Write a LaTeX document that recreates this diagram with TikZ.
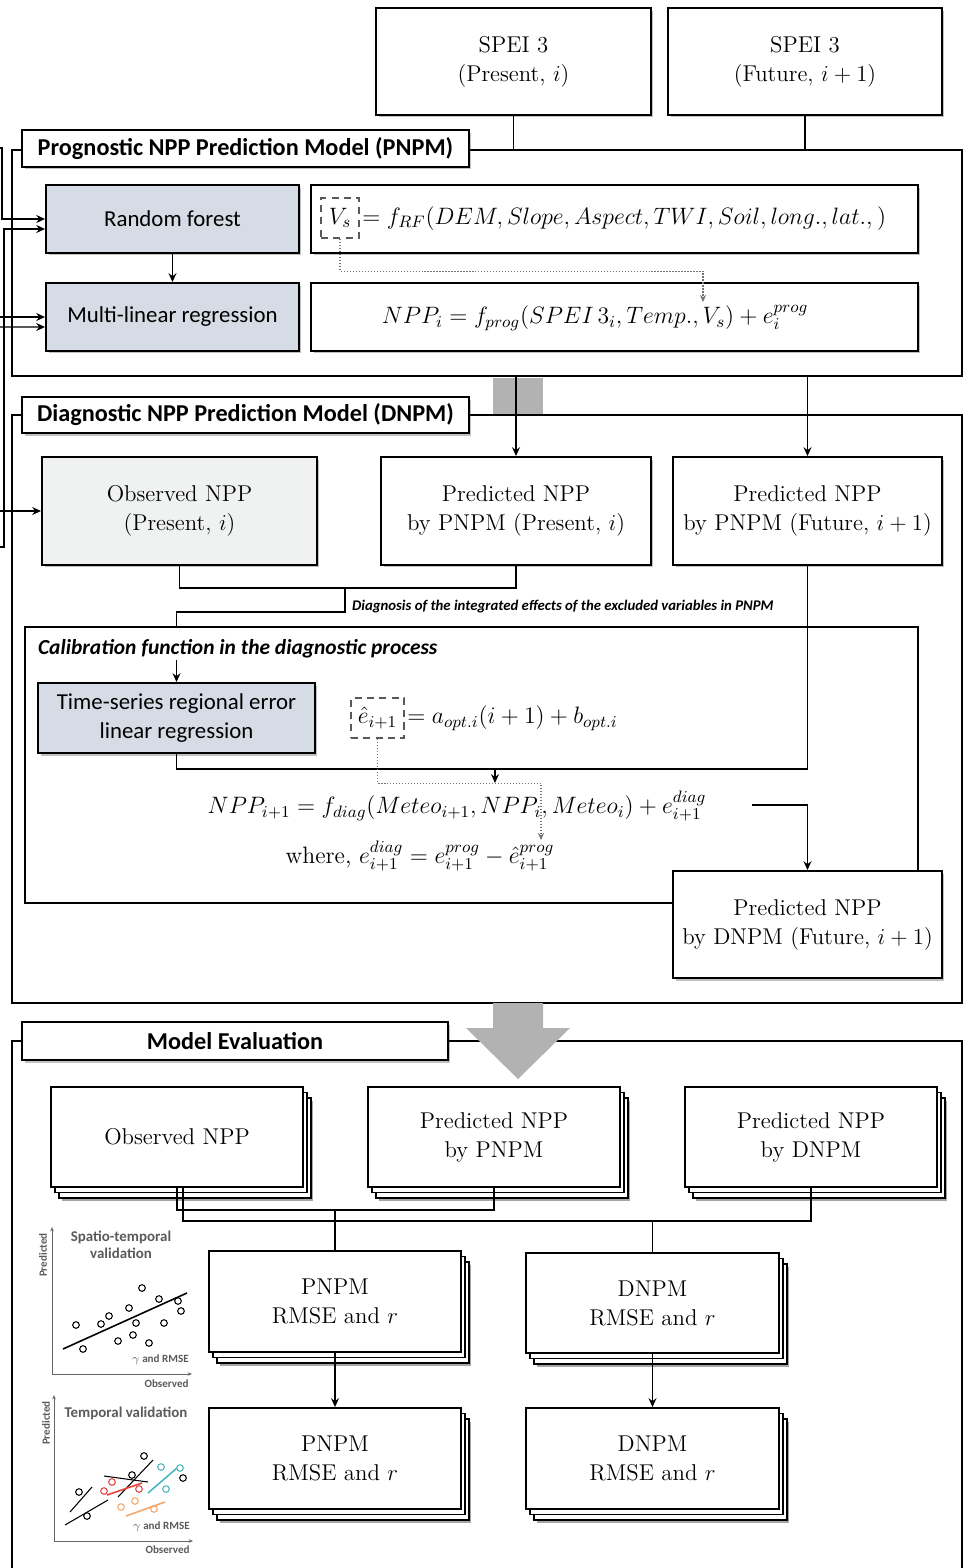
\RequirePackage{fix-cm}
\documentclass[tikz,border=0pt]{standalone}
\usepackage{fontspec}
\setsansfont{Carlito}
\usepackage{xcolor}
\usetikzlibrary{shadows,arrows.meta}

\definecolor{boxblue}{RGB}{214,220,229}
\definecolor{obsgray}{RGB}{240,241,241}
\definecolor{bandgray}{RGB}{178,178,178}
\definecolor{plotred}{RGB}{232,65,60}
\definecolor{plotcyan}{RGB}{75,181,193}
\definecolor{plotorange}{RGB}{245,166,106}
\definecolor{plottext}{RGB}{90,90,90}

\tikzset{
	softshadow/.style={drop shadow={shadow xshift=0.05cm,shadow yshift=-0.05cm,opacity=0.35,fill=black!70}},
	box/.style={draw,line width=1.1pt,fill=white,align=center,inner sep=2pt,softshadow},
	serifbox/.style={box,font=\fontsize{13}{16.5}\selectfont},
	sansbox/.style={box,font=\sffamily\fontsize{13}{16}\selectfont},
	titlebox/.style={box,font=\sffamily\bfseries\fontsize{13.8}{15}\selectfont},
	stackbox/.style={draw,line width=1.1pt,fill=white,align=center,inner sep=2pt,font=\fontsize{13}{16.5}\selectfont,
		general shadow={shadow xshift=0.21cm,shadow yshift=-0.27cm,fill=black!35},
		general shadow={shadow xshift=0.16cm,shadow yshift=-0.22cm,fill=white,draw,line width=1.1pt},
		general shadow={shadow xshift=0.08cm,shadow yshift=-0.11cm,fill=white,draw,line width=1.1pt}},
	framebox/.style={draw,line width=1.1pt},
	eqtext/.style={inner sep=1pt,font=\fontsize{13.5}{17}\selectfont},
	hatbox/.style={draw=black!65,line width=1.3pt,dash pattern=on 4pt off 3pt,minimum width=0.76cm,minimum height=0.8cm,inner sep=1pt,font=\fontsize{13.5}{17}\selectfont},
	conn/.style={line width=0.85pt},
	arr/.style={conn,-{Stealth[length=5pt,width=4.5pt]}},
	dotarr/.style={densely dotted,line width=0.7pt,black!55,-{Stealth[length=4pt,width=3.5pt]}},
	axis/.style={line width=0.5pt,black!60,-{Stealth[length=2.5pt,width=2pt]}},
	plottitle/.style={inner sep=0pt,text=plottext,align=center,font=\sffamily\bfseries\fontsize{8.5}{10}\selectfont},
	plotsmall/.style={inner sep=0pt,text=plottext,font=\sffamily\bfseries\fontsize{6.3}{7}\selectfont},
	pt/.style={line width=0.6pt}
}

\begin{document}
\begin{tikzpicture}[x=0.02cm,y=-0.02cm]
	\useasboundingbox (0,0) rectangle (963,1568);
	\clip (0,0) rectangle (963,1568);

	\node[framebox,minimum width=19cm,minimum height=4.52cm] (pnpmframe) at (487,263) {};
	\node[framebox,minimum width=19cm,minimum height=11.76cm] (dnpmframe) at (487,709) {};
	\node[framebox,minimum width=19cm,minimum height=11.6cm] (evalframe) at (487,1331) {};
	\fill[bandgray] (493,378) rectangle (543,414);

	\node[serifbox,minimum width=5.5cm,minimum height=2.14cm] (speipres) at (513.5,61.5) {SPEI 3\\(Present, $i$)};
	\node[serifbox,minimum width=5.48cm,minimum height=2.14cm] (speifut) at (805,61.5) {SPEI 3\\(Future, $i+1$)};

	\node[titlebox,minimum width=8.94cm,minimum height=0.74cm] (pnpmtitle) at (245.5,148.5) {Prognostic NPP Prediction Model (PNPM)};
	\node[sansbox,fill=boxblue,minimum width=5.06cm,minimum height=1.36cm] (rf) at (172.5,219) {Random forest};
	\node[sansbox,fill=boxblue,minimum width=5.06cm,minimum height=1.36cm] (mlr) at (172.5,317) {Multi-linear regression};
	\node[box,minimum width=12.14cm,minimum height=1.36cm] (eqrf) at (614.5,219) {};
	\node[hatbox] (vsbox) at (340,218) {$V_s$};
	\node[eqtext,anchor=base west] (rftxt) at (vsbox.base east) {$= f_{RF}(DEM, Slope, Aspect, TWI, Soil, long., lat.,)$};
	\node[box,minimum width=12.14cm,minimum height=1.36cm] (eqprog) at (614.5,317) {};
	\node[eqtext] (progtxt) at (595,318) {$NPP_i = f_{prog}(SPEI\,3_i, Temp., V_s) + e_i^{prog}$};

	\node[titlebox,minimum width=8.94cm,minimum height=0.72cm] (dnpmtitle) at (245.5,415) {Diagnostic NPP Prediction Model (DNPM)};
	\node[serifbox,fill=obsgray,minimum width=5.5cm,minimum height=2.16cm] (obsnpp) at (179.5,511) {Observed NPP\\(Present, $i$)};
	\node[serifbox,minimum width=5.4cm,minimum height=2.16cm] (predpp) at (516,511) {Predicted NPP\\by PNPM (Present, $i$)};
	\node[serifbox,minimum width=5.38cm,minimum height=2.16cm] (predpf) at (807.5,511) {Predicted NPP\\by PNPM (Future, $i+1$)};

	\node[framebox,minimum width=17.86cm,minimum height=5.52cm] (calib) at (471.5,765) {};
	\node[anchor=west,fill=white,inner sep=1pt,font=\sffamily\bfseries\itshape\fontsize{12.2}{14}\selectfont] (calibl) at (36,649) {Calibration function in the diagnostic process};
	\node[anchor=west,inner sep=1pt,font=\sffamily\bfseries\itshape\fontsize{8.4}{10}\selectfont] (diagl) at (350,607) {Diagnosis of the integrated effects of the excluded variables in PNPM};
	\node[sansbox,fill=boxblue,minimum width=5.54cm,minimum height=1.4cm] (tsreg) at (176.5,718) {Time-series regional error\\linear regression};
	\node[hatbox,minimum width=1.06cm] (ehbox) at (377.5,718) {$\hat{e}_{i+1}$};
	\node[eqtext,anchor=base west] (ehtxt) at (ehbox.base east) {$= a_{opt.i}(i+1) + b_{opt.i}$};
	\node[eqtext] (diagtxt) at (457,806) {$NPP_{i+1} = f_{diag}(Meteo_{i+1}, NPP_i, Meteo_i) + e^{diag}_{i+1}$};
	\node[eqtext] (wheretxt) at (420,856) {where, $e^{diag}_{i+1} = e^{prog}_{i+1} - \hat{e}^{prog}_{i+1}$};
	\node[serifbox,minimum width=5.38cm,minimum height=2.14cm] (preddf) at (807.5,924.5) {Predicted NPP\\by DNPM (Future, $i+1$)};

	\node[titlebox,minimum width=8.52cm,minimum height=0.76cm] (evaltitle) at (235,1041) {Model Evaluation};
	\fill[bandgray] (493,1003) -- (543,1003) -- (543,1028) -- (570,1028) -- (518,1079) -- (466,1028) -- (493,1028) -- cycle;
	\node[stackbox,minimum width=5.04cm,minimum height=2cm] (obsall) at (177,1137) {Observed NPP};
	\node[stackbox,minimum width=5.04cm,minimum height=2cm] (predpall) at (494,1137) {Predicted NPP\\by PNPM};
	\node[stackbox,minimum width=5.04cm,minimum height=2cm] (preddall) at (811,1137) {Predicted NPP\\by DNPM};
	\node[stackbox,minimum width=5.04cm,minimum height=2.02cm] (pnpmv1) at (335,1301.5) {PNPM\\RMSE and $r$};
	\node[stackbox,minimum width=5.06cm,minimum height=2cm] (dnpmv1) at (652.5,1303) {DNPM\\RMSE and $r$};
	\node[stackbox,minimum width=5.04cm,minimum height=2.02cm] (pnpmv2) at (335,1458.5) {PNPM\\RMSE and $r$};
	\node[stackbox,minimum width=5.06cm,minimum height=2.02cm] (dnpmv2) at (652.5,1458.5) {DNPM\\RMSE and $r$};

	\coordinate (srcA) at (-6,148);
	\coordinate (srcB) at (-6,547);
	\coordinate (srcC) at (-6,317);
	\coordinate (srcD) at (-6,327);
	\coordinate (srcE) at (-6,511);
	\draw[arr] (srcA) -- ++(8,0) |- (rf.west);
	\draw[arr] (srcB) -- ++(10,0) |- ([yshift=-0.2cm]rf.west);
	\draw[arr] (srcC) -- (mlr.west);
	\draw[arr] (srcD) -- ([yshift=-0.2cm]mlr.west);
	\draw[arr] (srcE) -- (obsnpp.west);

	\draw[conn] (speipres.south) -- (speipres.south |- pnpmframe.north);
	\draw[conn] (speifut.south) -- (speifut.south |- pnpmframe.north);
	\draw[arr] (rf) -- (mlr);
	\coordinate (vsprog) at (703,302);
	\draw[dotarr] (vsbox.south) -- ++(0,32) -| (vsprog);
	\draw[arr] (predpp.north |- pnpmframe.south) -- (predpp.north);
	\draw[arr] (predpf.north |- pnpmframe.south) -- (predpf.north);

	\coordinate (diagj) at (345,588);
	\coordinate (diagk) at (345,612);
	\draw[conn] (obsnpp.south) |- (diagj) -| (predpp.south);
	\draw[conn] (diagj) -- (diagk) -| (tsreg.north |- calib.north);
	\draw[arr] (tsreg.north |- calibl.south) -- (tsreg.north);
	\coordinate (calj) at (495,769);
	\coordinate (diagin) at (495,783);
	\draw[conn] (predpf.south) |- (calj) -| (tsreg.south);
	\draw[arr] (calj) -- (diagin);
	\coordinate (ehprog) at (541,840);
	\draw[dotarr] (ehbox.south) -- ++(0,44) -| (ehprog);
	\coordinate (diagout) at (752,805);
	\draw[arr] (diagout) -| (preddf.north);

	\coordinate (evj1) at (335,1210);
	\coordinate (evj2) at (652.5,1221);
	\draw[conn] (obsall.south) |- (evj1) -| (predpall.south);
	\draw[conn] ([xshift=0.12cm]obsall.south) |- (evj2) -| (preddall.south);
	\draw[conn] (evj1) -- (pnpmv1.north);
	\draw[conn] (evj2) -- (dnpmv1.north);
	\draw[arr] (pnpmv1.south) -- (pnpmv2.north);
	\draw[arr] (dnpmv1.south) -- (dnpmv2.north);

	\draw[axis] (52,1374) -- (52,1227);
	\draw[axis] (52,1374) -- (192,1374);
	\node[plotsmall,rotate=90] (p1y) at (43,1255) {Predicted};
	\node[plottitle] (p1t) at (121,1245) {Spatio-temporal\\validation};
	\node[plotsmall,anchor=east] (p1r) at (189,1360) {$\gamma$ and RMSE};
	\node[plotsmall,anchor=east] (p1x) at (189,1384) {Observed};
	\draw[line width=0.9pt] (63,1349) -- (187,1293);
	\foreach \px/\py in {76/1325,83/1349,101/1324,109/1316,118/1341,129/1308,133/1335,136/1323,142/1288,149/1343,159/1299,164/1323,178/1301,181/1311}
		\draw[pt] (\px,\py) circle[radius=0.066cm];

	\draw[axis] (54,1541) -- (54,1395);
	\draw[axis] (54,1541) -- (193,1541);
	\node[plotsmall,rotate=90] (p2y) at (46,1423) {Predicted};
	\node[plottitle] (p2t) at (126,1413) {Temporal validation};
	\node[plotsmall,anchor=east] (p2r) at (190,1527) {$\gamma$ and RMSE};
	\node[plotsmall,anchor=east] (p2x) at (190,1550) {Observed};
	\draw[line width=0.6pt] (70,1512) -- (92,1487);
	\draw[line width=0.6pt] (65,1525) -- (108,1500);
	\draw[line width=0.6pt] (118,1497) -- (153,1460);
	\draw[line width=0.6pt] (104,1476) -- (148,1482);
	\foreach \px/\py in {79/1492,87/1516,132/1475,144/1456,183/1478}
		\draw[pt] (\px,\py) circle[radius=0.066cm];
	\draw[plotred,line width=0.9pt] (107,1495) -- (142,1483);
	\foreach \px/\py in {104/1491,112/1482,139/1489}
		\draw[pt,plotred] (\px,\py) circle[radius=0.066cm];
	\draw[plotcyan,line width=0.9pt] (148,1493) -- (177,1468);
	\foreach \px/\py in {161/1467,180/1468,166/1489}
		\draw[pt,plotcyan] (\px,\py) circle[radius=0.066cm];
	\draw[plotorange,line width=0.9pt] (126,1516) -- (165,1502);
	\foreach \px/\py in {121/1507,135/1501,154/1509}
		\draw[pt,plotorange] (\px,\py) circle[radius=0.066cm];
\end{tikzpicture}
\end{document}
